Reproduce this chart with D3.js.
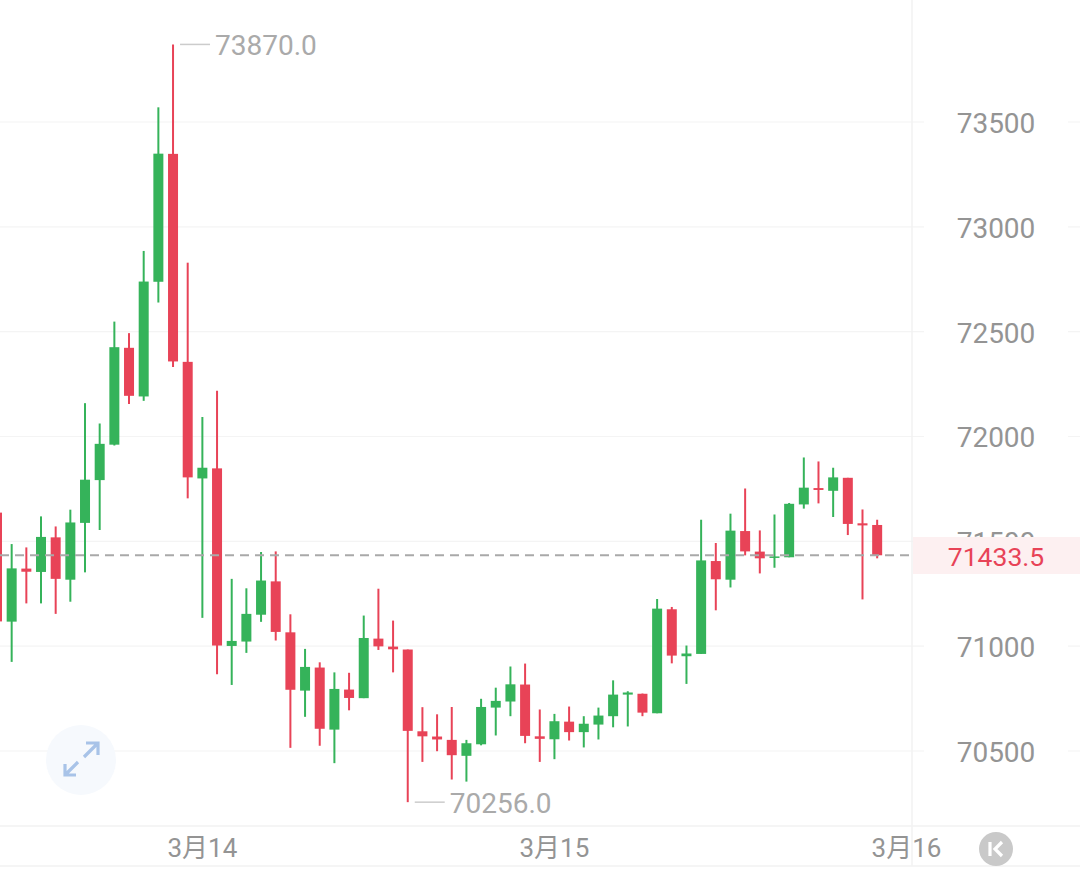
<!DOCTYPE html>
<html>
<head>
<meta charset="utf-8">
<script src="https://cdn.jsdelivr.net/npm/d3@7"></script>
<style>
  html, body { margin: 0; padding: 0; background: #fff; }
  svg { display: block; }
  text { font-family: Roboto, "Noto Sans CJK SC", sans-serif; }
</style>
</head>
<body>
<div id="chart"></div>
<script>
// hourly candles, 3月13 evening to 3月15 end
var opens = [71637,71117,71370,71354,71519,71317,71588,71792,71961,72423,72191,72738,73348,72356,71800,71848,71001,71022,71150,71309,
  71066,70788,70898,70602,70793,70752,71036,70998,70984,70594,70569,70553,70477,70532,70707,70736,70817,70570,70556,70640,
  70590,70626,70666,70769,70773,70680,71176,70952,70963,71406,71317,71549,71451,71421,71424,71676,71754,71741,71803,71586,71578];
var highs = [71637,71487,71471,71619,71571,71651,72159,72062,72548,72493,72885,73570,73870,72829,72093,72218,71321,71276,71449,71452,
  71152,70987,70923,70875,70873,71146,71274,71122,70984,70709,70675,70710,70553,70749,70802,70903,70917,70698,70677,70712,
  70666,70707,70837,70785,70774,71225,71187,71003,71603,71492,71632,71752,71552,71628,71683,71900,71881,71851,71803,71652,71603];
var lows = [71117,70925,71204,71204,71154,71212,71352,71554,71957,72155,72170,72639,72332,71705,71135,70866,70815,70968,71116,71027,
  70515,70663,70525,70442,70694,70752,70982,70875,70256,70448,70499,70364,70354,70527,70574,70666,70537,70448,70461,70550,
  70517,70555,70613,70617,70666,70680,70918,70820,70963,71171,71280,71433,71347,71374,71424,71656,71681,71616,71530,71223,71419];
var closes = [71118,71371,71355,71521,71321,71590,71794,71965,72426,72194,72739,73349,72358,71805,71851,71003,71025,71154,71313,71068,
  70792,70901,70606,70796,70753,71039,70999,70985,70596,70570,70555,70480,70537,70710,70739,70818,70572,70558,70642,70590,
  70630,70669,70769,70779,70683,71179,70955,70965,71409,71319,71551,71452,71419,71428,71679,71756,71745,71805,71583,71576,71433.5];

var priceTicks = [70500,71000,71500,72000,72500,73000,73500];
var dateTicks = [[14,"3月14"],[38,"3月15"],[62,"3月16"]];
var highest = {i:12, value:73870.0};
var lowest = {i:28, value:70256.0};
var lastPrice = 71433.5;

var width = 1080, height = 869;
var plotRight = 912, plotBottom = 826, axisBottom = 866;

var svg = d3.select("#chart").append("svg")
  .attr("width", width)
  .attr("height", height);

var x = d3.scaleLinear().domain([0,62]).range([-3,906.5]);
var y = d3.scaleLinear().domain([70500,73500]).range([751,122]);

var green = "#35b35a", red = "#e84357";

// grid
svg.append("g").selectAll("line")
  .data(priceTicks)
  .enter().append("line")
  .attr("x1",0).attr("x2",width)
  .attr("y1",function(d){ return y(d); })
  .attr("y2",function(d){ return y(d); })
  .attr("stroke","#f4f4f4")
  .attr("stroke-width",1.2);

// price labels, with a white patch so the grid breaks behind them
var yAxis = svg.append("g");
yAxis.selectAll("rect")
  .data(priceTicks)
  .enter().append("rect")
  .attr("x",924).attr("width",144)
  .attr("y",function(d){ return y(d)-4; })
  .attr("height",8)
  .attr("fill","#fff");
yAxis.selectAll("text")
  .data(priceTicks)
  .enter().append("text")
  .attr("x",996)
  .attr("y",function(d){ return y(d)+1; })
  .attr("dy","0.355em")
  .attr("text-anchor","middle")
  .attr("font-size",28)
  .attr("fill","#949494")
  .text(function(d){ return d; });

// frame
svg.append("line").attr("x1",plotRight).attr("x2",plotRight).attr("y1",0).attr("y2",axisBottom)
  .attr("stroke","#f2f2f2").attr("stroke-width",1.5);
svg.append("line").attr("x1",0).attr("x2",width).attr("y1",plotBottom).attr("y2",plotBottom)
  .attr("stroke","#f2f2f2").attr("stroke-width",1.5);
svg.append("line").attr("x1",0).attr("x2",width).attr("y1",axisBottom).attr("y2",axisBottom)
  .attr("stroke","#f2f2f2").attr("stroke-width",1.5);

// expand button
var expand = svg.append("g").attr("transform","translate(81,760)");
expand.append("circle").attr("r",35).attr("fill","#f6f9fd");
expand.append("path")
  .attr("d","M-16 15L-3 2M-16 4V15H-5M3 -3L16 -16M5 -17H17V-5")
  .attr("fill","none").attr("stroke","#a8c3e8").attr("stroke-width",3.2);

// date labels
svg.append("g").selectAll("text")
  .data(dateTicks)
  .enter().append("text")
  .attr("x",function(d){ return x(d[0]); })
  .attr("y",857)
  .attr("text-anchor","middle")
  .attr("font-size",26)
  .attr("fill","#949494")
  .text(function(d){ return d[1]; });

// K button
var kBtn = svg.append("g").attr("transform","translate(996,849)");
kBtn.append("circle").attr("r",17).attr("fill","#c9c9c9");
kBtn.append("path")
  .attr("d","M-6 -7V7M6 -7L-1 0L6 7")
  .attr("fill","none").attr("stroke","#fff").attr("stroke-width",3.2);

// candles
var candles = svg.append("g").selectAll("g")
  .data(opens.map(function(o,i){
    return {i:i, open:o, high:highs[i], low:lows[i], close:closes[i]};
  }))
  .enter().append("g");

candles.append("line")
  .attr("x1",function(d){ return x(d.i); })
  .attr("x2",function(d){ return x(d.i); })
  .attr("y1",function(d){ return y(d.high); })
  .attr("y2",function(d){ return y(d.low); })
  .attr("stroke",function(d){ return d.close>=d.open ? green : red; })
  .attr("stroke-width",2);

candles.append("rect")
  .attr("x",function(d){ return x(d.i)-5; })
  .attr("width",10)
  .attr("y",function(d){ return y(Math.max(d.open,d.close)); })
  .attr("height",function(d){ return Math.max(1.5,Math.abs(y(d.open)-y(d.close))); })
  .attr("fill",function(d){ return d.close>=d.open ? green : red; });

// last price
svg.append("line")
  .attr("x1",0).attr("x2",plotRight)
  .attr("y1",y(lastPrice)).attr("y2",y(lastPrice))
  .attr("stroke","#a9a9a9")
  .attr("stroke-width",2)
  .attr("stroke-dasharray","9,6");
svg.append("rect")
  .attr("x",plotRight+1).attr("width",width-plotRight)
  .attr("y",537).attr("height",37)
  .attr("fill","#fdf0f1");
svg.append("text")
  .attr("x",996)
  .attr("y",y(lastPrice)+1)
  .attr("dy","0.355em")
  .attr("text-anchor","middle")
  .attr("font-size",26.5)
  .attr("fill",red)
  .text(d3.format(".1f")(lastPrice));

// high and low markers
[highest,lowest].forEach(function(m){
  var px = x(m.i), py = y(m.value);
  svg.append("line")
    .attr("x1",px+7).attr("x2",px+37)
    .attr("y1",py).attr("y2",py)
    .attr("stroke","#cccccc")
    .attr("stroke-width",1.5);
  svg.append("text")
    .attr("x",px+42)
    .attr("y",py+1)
    .attr("dy","0.355em")
    .attr("font-size",28)
    .attr("fill","#aaa")
    .text(d3.format(".1f")(m.value));
});
</script>
</body>
</html>
